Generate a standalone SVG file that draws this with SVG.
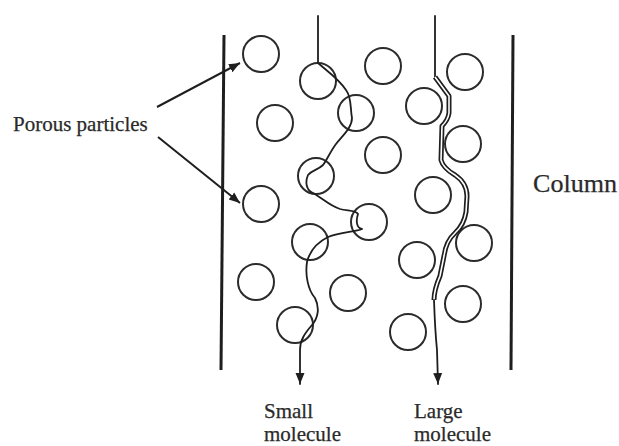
<svg xmlns="http://www.w3.org/2000/svg" xmlns:xlink="http://www.w3.org/1999/xlink" width="619" height="446" viewBox="0 0 619 446">
  <style>
    .bead { fill: none; stroke: #2b2b2b; stroke-width: 2; }
    .wall { stroke: #1e1e1e; stroke-width: 3; fill: none; }
    .path { fill: none; stroke: #1e1e1e; stroke-width: 1.8; stroke-linecap: round; stroke-linejoin: round; }
    .chan { fill: none; stroke: #1e1e1e; stroke-width: 5; stroke-linejoin: round; }
    .chanIn { fill: none; stroke: #ffffff; stroke-width: 1.6; stroke-linejoin: round; }
    .lead { fill: none; stroke: #1e1e1e; stroke-width: 2; }
    text { font-family: "Liberation Serif", "Times New Roman", serif; fill: #2a2a2a; stroke: #2a2a2a; stroke-width: 0.25; }
  </style>
  <defs>
    <marker id="arrow" markerUnits="userSpaceOnUse" markerWidth="12" markerHeight="12" viewBox="0 0 12 12" refX="11" refY="6" orient="auto">
      <path d="M0,1.5 L11,6 L0,10.5 Z" fill="#1e1e1e"/>
    </marker>
    <path id="largeMid" d="M435,77 L449,96 L449,113 Q448,120 442,126 L441,160 Q443,168 455,175 Q467,183 467,196 L466,212 Q464,225 455,233 Q446,241 444,256 L440,276 Q434,290 434,300"/>
  </defs>

  <g id="column">
    <line class="wall" x1="224" y1="35" x2="221" y2="370"/>
    <line class="wall" x1="513" y1="35" x2="511" y2="370"/>
  </g>

  <g id="particles">
    <circle class="bead" cx="261" cy="54" r="18"/>
    <circle class="bead" cx="318" cy="81" r="18"/>
    <circle class="bead" cx="356" cy="113" r="18"/>
    <circle class="bead" cx="383" cy="66" r="18"/>
    <circle class="bead" cx="275" cy="123" r="18"/>
    <circle class="bead" cx="383" cy="155" r="18"/>
    <circle class="bead" cx="316" cy="176" r="18"/>
    <circle class="bead" cx="261" cy="204" r="18"/>
    <circle class="bead" cx="369" cy="222" r="18"/>
    <circle class="bead" cx="310" cy="242" r="18"/>
    <circle class="bead" cx="256" cy="282" r="18"/>
    <circle class="bead" cx="348" cy="293" r="18"/>
    <circle class="bead" cx="295" cy="325" r="18"/>
    <circle class="bead" cx="465" cy="72" r="18"/>
    <circle class="bead" cx="424" cy="106" r="18"/>
    <circle class="bead" cx="463" cy="144" r="18"/>
    <circle class="bead" cx="433" cy="195" r="18"/>
    <circle class="bead" cx="474" cy="243" r="18"/>
    <circle class="bead" cx="417" cy="260" r="18"/>
    <circle class="bead" cx="463" cy="304" r="18"/>
    <circle class="bead" cx="408" cy="332" r="18"/>
  </g>

  <g id="connectors">
    <line class="lead" x1="157" y1="107" x2="240" y2="63" marker-end="url(#arrow)"/>
    <line class="lead" x1="158" y1="137" x2="240" y2="203" marker-end="url(#arrow)"/>
    <path id="small-path" class="path" marker-end="url(#arrow)" d="M318,16 V63 C326,70 340,80 346,90 C352,98 350,108 352,118 C352,128 342,136 336,144 C330,152 327,160 323,165 C318,170 312,170 308,175 C305,182 306,190 313,193 C322,198 330,206 340,209 C348,211 356,210 358,214 C356,220 356,228 362,229 C355,232 340,232 328,237 C318,242 310,250 307,262 C305,275 308,290 315,298 C320,308 318,318 312,325 C305,333 300,340 300,350 L300,384"/>
    <g id="large-path">
      <path class="path" d="M435,16 V77"/>
      <use xlink:href="#largeMid" class="chan"/>
      <use xlink:href="#largeMid" class="chanIn"/>
      <path class="path" marker-end="url(#arrow)" d="M434,300 Q435,330 437,350 L438,384"/>
    </g>
  </g>

  <g id="label-porous">
    <text x="13" y="131" font-size="21">Porous particles</text>
  </g>
  <g id="label-column">
    <text x="533" y="192" font-size="25" textLength="84" lengthAdjust="spacingAndGlyphs">Column</text>
  </g>
  <g id="label-small">
    <text x="264" y="418" font-size="21">Small</text>
    <text x="264" y="441" font-size="21">molecule</text>
  </g>
  <g id="label-large">
    <text x="414" y="418" font-size="21">Large</text>
    <text x="414" y="441" font-size="21">molecule</text>
  </g>
</svg>
